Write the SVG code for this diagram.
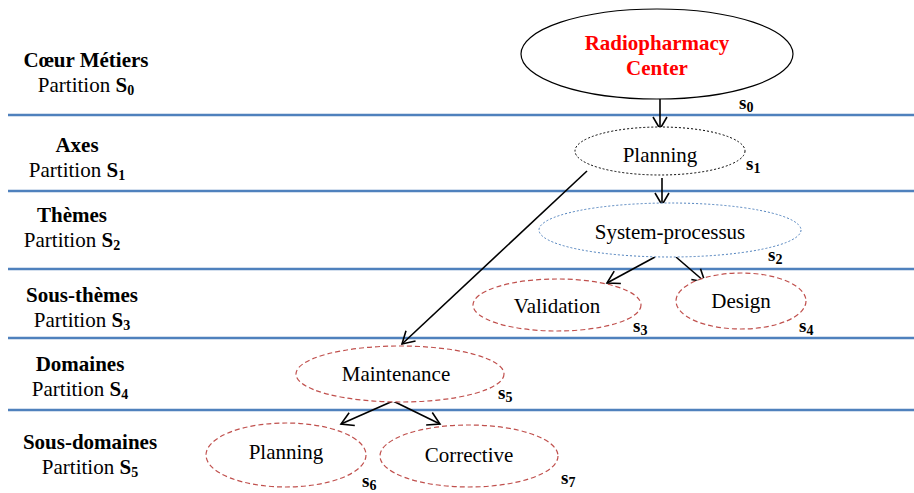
<svg xmlns="http://www.w3.org/2000/svg" width="914" height="493" viewBox="0 0 914 493">
<style>
text{font-family:'Liberation Serif','DejaVu Serif',serif;fill:#000}
.h{font-size:21px;font-weight:bold;text-anchor:middle}
.p{font-size:21px;text-anchor:middle}
.b{font-weight:bold}
.sub{font-size:14px;font-weight:bold}
.n{font-size:21px;text-anchor:middle}
.s{font-size:19px;font-weight:bold}
.sep{stroke:#4f81bd;stroke-width:2.5}
.red{fill:#fff;stroke:#c0504d;stroke-width:1.2;stroke-dasharray:5,3}
.con{stroke:#000;stroke-width:1.6;fill:none;marker-end:url(#ah)}
</style>
<defs>
<marker id="ah" markerWidth="16" markerHeight="16" refX="13" refY="8" orient="auto" markerUnits="userSpaceOnUse">
<path d="M1,1 L13,8 L1,15" fill="none" stroke="#000" stroke-width="1.6"/>
</marker>
</defs>
<g id="separators">
<line class="sep" x1="8" y1="115" x2="914" y2="115"/>
<line class="sep" x1="8" y1="191" x2="914" y2="191"/>
<line class="sep" x1="8" y1="269" x2="914" y2="269"/>
<line class="sep" x1="8" y1="338" x2="914" y2="338"/>
<line class="sep" x1="8" y1="410" x2="914" y2="410"/>
</g>
<g id="partition-labels">
<text class="h" x="86" y="67">Cœur Métiers</text>
<text class="p" x="86" y="92">Partition <tspan class="b">S</tspan><tspan class="sub" dy="3">0</tspan></text>
<text class="h" x="77" y="152">Axes</text>
<text class="p" x="77" y="177">Partition <tspan class="b">S</tspan><tspan class="sub" dy="3">1</tspan></text>
<text class="h" x="72" y="222">Thèmes</text>
<text class="p" x="72" y="247">Partition <tspan class="b">S</tspan><tspan class="sub" dy="3">2</tspan></text>
<text class="h" x="82" y="302">Sous-thèmes</text>
<text class="p" x="82" y="327">Partition <tspan class="b">S</tspan><tspan class="sub" dy="3">3</tspan></text>
<text class="h" x="80" y="371">Domaines</text>
<text class="p" x="80" y="396">Partition <tspan class="b">S</tspan><tspan class="sub" dy="3">4</tspan></text>
<text class="h" x="90" y="449">Sous-domaines</text>
<text class="p" x="90" y="474">Partition <tspan class="b">S</tspan><tspan class="sub" dy="3">5</tspan></text>
</g>
<g id="connectors">
<line class="con" x1="660" y1="99" x2="660" y2="129"/>
<line class="con" x1="662" y1="178" x2="662" y2="205"/>
<line class="con" x1="587" y1="171" x2="402" y2="344"/>
<line class="con" x1="655" y1="257" x2="607" y2="283"/>
<line class="con" x1="676" y1="257" x2="705" y2="282"/>
<line class="con" x1="393" y1="401" x2="341" y2="424"/>
<line class="con" x1="393" y1="401" x2="440" y2="424"/>
</g>
<g id="node-s0">
<ellipse cx="657" cy="54" rx="136" ry="45" fill="#fff" stroke="#000" stroke-width="1.2"/>
<text class="h" x="657" y="50" style="fill:#ff0000">Radiopharmacy</text>
<text class="h" x="657" y="75" style="fill:#ff0000">Center</text>
<text class="s" x="739" y="109">s<tspan class="sub" dy="3">0</tspan></text>
</g>
<g id="node-s1">
<ellipse cx="660" cy="151" rx="85" ry="24" fill="#fff" stroke="#000" stroke-width="1" stroke-dasharray="2,2"/>
<text class="n" x="660" y="162">Planning</text>
<text class="s" x="746" y="170">s<tspan class="sub" dy="3">1</tspan></text>
</g>
<g id="node-s2">
<ellipse cx="670" cy="230" rx="131" ry="27" fill="#fff" stroke="#4f81bd" stroke-width="1" stroke-dasharray="2,2"/>
<text class="n" x="670" y="239">System-processus</text>
<text class="s" x="768" y="261">s<tspan class="sub" dy="3">2</tspan></text>
</g>
<g id="node-s3">
<ellipse class="red" cx="557" cy="305" rx="84" ry="26"/>
<text class="n" x="557" y="313">Validation</text>
<text class="s" x="633" y="332">s<tspan class="sub" dy="3">3</tspan></text>
</g>
<g id="node-s4">
<ellipse class="red" cx="741" cy="301" rx="65" ry="28"/>
<text class="n" x="741" y="308">Design</text>
<text class="s" x="799" y="332">s<tspan class="sub" dy="3">4</tspan></text>
</g>
<g id="node-s5">
<ellipse class="red" cx="400" cy="374" rx="104" ry="28"/>
<text class="n" x="396" y="381">Maintenance</text>
<text class="s" x="498" y="399">s<tspan class="sub" dy="3">5</tspan></text>
</g>
<g id="node-s6">
<ellipse class="red" cx="286" cy="455" rx="80" ry="32"/>
<text class="n" x="286" y="459">Planning</text>
<text class="s" x="362" y="487">s<tspan class="sub" dy="3">6</tspan></text>
</g>
<g id="node-s7">
<ellipse class="red" cx="469" cy="456" rx="89" ry="31"/>
<text class="n" x="469" y="462">Corrective</text>
<text class="s" x="561" y="484">s<tspan class="sub" dy="3">7</tspan></text>
</g>
</svg>
